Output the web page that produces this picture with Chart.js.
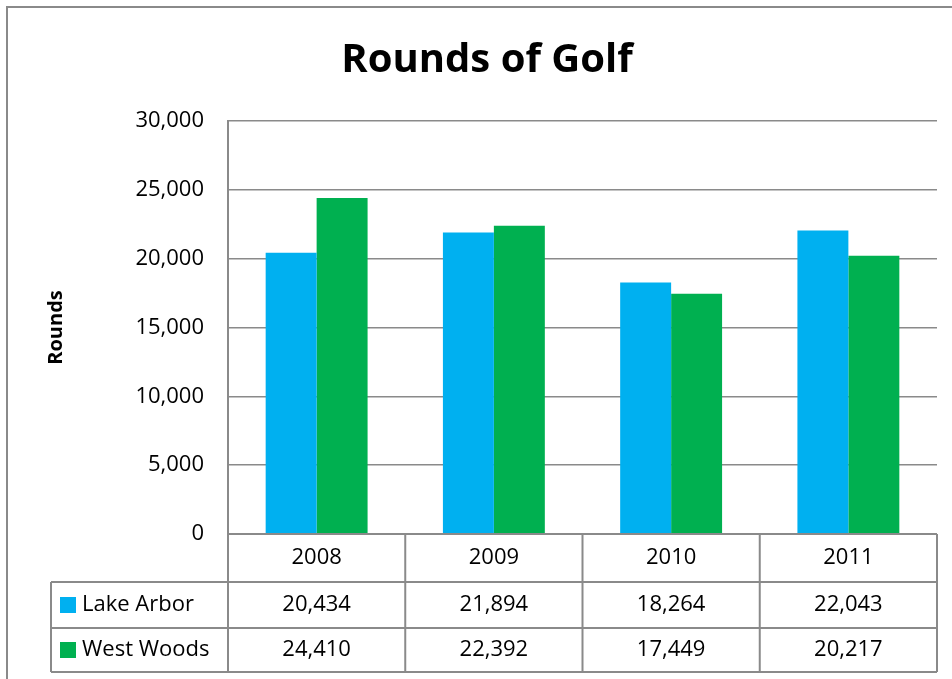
<!DOCTYPE html>
<html>
<head>
<meta charset="utf-8">
<title>Rounds of Golf</title>
<script src="https://cdn.jsdelivr.net/npm/chart.js@4.4.1/dist/chart.umd.min.js"></script>
<style>
    body { margin: 0; background: #fff; }
    #wrap { width: 952px; height: 679px; position: relative; }
</style>
</head>
<body>
<div id="wrap"><canvas id="golfChart" width="952" height="679"></canvas></div>
<script>
// chart data
const years = ['2008', '2009', '2010', '2011'];
const lakeArbor = [20434, 21894, 18264, 22043];
const westWoods = [24410, 22392, 17449, 20217];
const seriesNames = ['Lake Arbor', 'West Woods'];
const seriesColors = ['#00b0f0', '#00b050'];

const FONT = "'Open Sans', 'Liberation Sans', sans-serif";
const lineGray = '#8a8a8a';

function fmt(v) {
    return v.toLocaleString('en-US');
}

// outer frame of the chart
const framePlugin = {
    id: 'frame',
    beforeDraw(chart) {
        const ctx = chart.ctx;
        ctx.save();
        ctx.fillStyle = '#fff';
        ctx.fillRect(0, 0, chart.width, chart.height);
        ctx.strokeStyle = lineGray;
        ctx.lineWidth = 2;
        ctx.strokeRect(7, 7, chart.width + 20, chart.height + 20);
        ctx.restore();
    }
};

// data table under the plot, like excel
const dataTablePlugin = {
    id: 'dataTable',
    afterDraw(chart) {
        const ctx = chart.ctx;
        const x = chart.scales.x;
        const area = chart.chartArea;
        const colW = area.width / years.length;
        const top = area.bottom;
        const row1 = 582, row2 = 628, bottom = 672;
        const tableLeft = 51;

        ctx.save();
        ctx.strokeStyle = lineGray;
        ctx.lineWidth = 2;
        ctx.beginPath();
        // horizontal lines
        ctx.moveTo(area.left, top); ctx.lineTo(area.right, top);
        ctx.moveTo(tableLeft, row1); ctx.lineTo(area.right, row1);
        ctx.moveTo(tableLeft, row2); ctx.lineTo(area.right, row2);
        ctx.moveTo(tableLeft, bottom); ctx.lineTo(area.right, bottom);
        // vertical lines
        ctx.moveTo(tableLeft, row1); ctx.lineTo(tableLeft, bottom);
        for (let i = 0; i <= years.length; i++) {
            const bx = area.left + i * colW;
            ctx.moveTo(bx, top); ctx.lineTo(bx, bottom);
        }
        ctx.stroke();

        ctx.fillStyle = '#000';
        ctx.font = `22px ${FONT}`;
        ctx.textAlign = 'center';
        ctx.textBaseline = 'middle';
        const rows = [lakeArbor, westWoods];
        years.forEach((yr, i) => {
            const cx = x.getPixelForValue(i);
            ctx.fillText(yr, cx, (top + row1) / 2);
            ctx.fillText(fmt(rows[0][i]), cx, (row1 + row2) / 2);
            ctx.fillText(fmt(rows[1][i]), cx, (row2 + bottom) / 2);
        });

        // legend keys
        ctx.textAlign = 'left';
        const mids = [(row1 + row2) / 2, (row2 + bottom) / 2];
        seriesNames.forEach((name, i) => {
            ctx.fillStyle = seriesColors[i];
            ctx.fillRect(60, mids[i] - 8, 16, 16);
            ctx.fillStyle = '#000';
            ctx.fillText(name, 82, mids[i]);
        });
        ctx.restore();
    }
};

const ctx = document.getElementById('golfChart').getContext('2d');
new Chart(ctx, {
    type: 'bar',
    data: {
        labels: years,
        datasets: [{
            label: seriesNames[0],
            data: lakeArbor,
            backgroundColor: seriesColors[0],
            borderWidth: 0
        }, {
            label: seriesNames[1],
            data: westWoods,
            backgroundColor: seriesColors[1],
            borderWidth: 0
        }]
    },
    options: {
        responsive: false,
        animation: false,
        datasets: {
            bar: {
                categoryPercentage: 0.575,
                barPercentage: 1
            }
        },
        layout: {
            // left padding also moves the title centre a bit right, as in excel
            padding: { left: 37, right: 15, top: 0, bottom: 145 }
        },
        scales: {
            x: {
                display: false
            },
            y: {
                min: 0,
                max: 30000,
                ticks: {
                    stepSize: 5000,
                    padding: 24,
                    color: '#000',
                    font: { family: FONT, size: 22 },
                    callback: (v) => fmt(v)
                },
                grid: {
                    color: lineGray,
                    lineWidth: 1.5,
                    drawTicks: false
                },
                border: {
                    display: true,
                    color: lineGray,
                    width: 2
                },
                title: {
                    display: true,
                    text: 'Rounds',
                    color: '#000',
                    font: { family: FONT, size: 20, weight: 'bold' },
                    padding: { top: 7, bottom: 0 }
                },
                afterFit(scale) {
                    scale.width = 191;
                }
            }
        },
        plugins: {
            legend: { display: false },
            tooltip: { enabled: false },
            title: {
                display: true,
                text: 'Rounds of Golf',
                color: '#000',
                font: { family: FONT, size: 40, weight: 'bold' },
                padding: { top: 37, bottom: 36 }
            }
        }
    },
    plugins: [framePlugin, dataTablePlugin]
});
</script>
</body>
</html>
